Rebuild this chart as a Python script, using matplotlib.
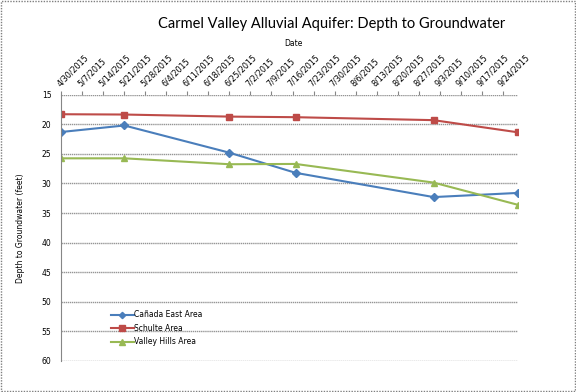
import datetime as dt
import matplotlib
matplotlib.use("Agg")
import matplotlib.pyplot as plt
import matplotlib.dates as mdates
from matplotlib.patches import Rectangle

# sampling dates (same for all three areas)
dates = ["2015-04-30", "2015-05-21", "2015-06-25", "2015-07-17", "2015-09-01", "2015-09-29"]
canada_east = [21.3, 20.2, 24.8, 28.2, 32.3, 31.6]
schulte = [18.3, 18.35, 18.7, 18.8, 19.3, 21.35]
valley_hills = [25.75, 25.75, 26.75, 26.7, 29.85, 33.6]

tick_start = "2015-04-30"
n_weeks = 22
y_ticks = [15, 20, 25, 30, 35, 40, 45, 50, 55, 60]

x = [dt.datetime.strptime(d, "%Y-%m-%d") for d in dates]
t0 = dt.datetime.strptime(tick_start, "%Y-%m-%d")
week_ticks = [t0 + dt.timedelta(days=7 * i) for i in range(n_weeks)]

fig = plt.figure(figsize=(5.76, 3.92), dpi=100)
ax = fig.add_axes([0.1064, 0.0791, 0.7924, 0.6793])

ax.plot(x, canada_east, color="#4A7EBB", marker="D", markersize=4, lw=1.5, label="Cañada East Area")
ax.plot(x, schulte, color="#BE4B48", marker="s", markersize=5, lw=1.5, label="Schulte Area")
ax.plot(x, valley_hills, color="#98B954", marker="^", markersize=5, lw=1.5, label="Valley Hills Area")

ax.set_ylim(60, 15)
ax.set_yticks(y_ticks)
ax.set_xlim(x[0], x[-1])
ax.set_xticks(week_ticks)
ax.xaxis.set_major_formatter(mdates.DateFormatter("%-m/%-d/%Y"))
ax.xaxis.tick_top()
plt.setp(ax.get_xticklabels(), rotation=45, ha="left", va="bottom", rotation_mode="anchor")

ax.grid(axis="y", color="#959595", lw=1, ls=(0, (1, 0.5)))
ax.set_axisbelow(True)
for s in ["right", "bottom", "top"]:
    ax.spines[s].set_visible(False)
ax.spines["left"].set_color("#868686")
ax.tick_params(axis="x", labelsize=5.8, length=3, color="#868686", pad=2)
ax.tick_params(axis="y", labelsize=5.5, length=0, pad=7)

ax.set_ylabel("Depth to Groundwater (feet)", fontsize=5.5, labelpad=12)
fig.text(0.509, 0.89, "Date", ha="center", va="center", fontsize=5.5)
fig.text(0.575, 0.94, "Carmel Valley Alluvial Aquifer: Depth to Groundwater",
         ha="center", va="center", fontsize=10.5, family="Lato")

ax.legend(loc="upper left", bbox_to_anchor=(0.1, 0.205), frameon=False, fontsize=5.5,
          handlelength=3, handletextpad=0.1, labelspacing=0.6, borderpad=0,
          markerscale=0.8)

fig.patches.append(Rectangle((0.002, 0.003), 0.996, 0.994, transform=fig.transFigure,
                             fill=False, ec="#7f7f7f", lw=1, ls=(0, (1, 1))))

fig.savefig("out.png", dpi=100)
